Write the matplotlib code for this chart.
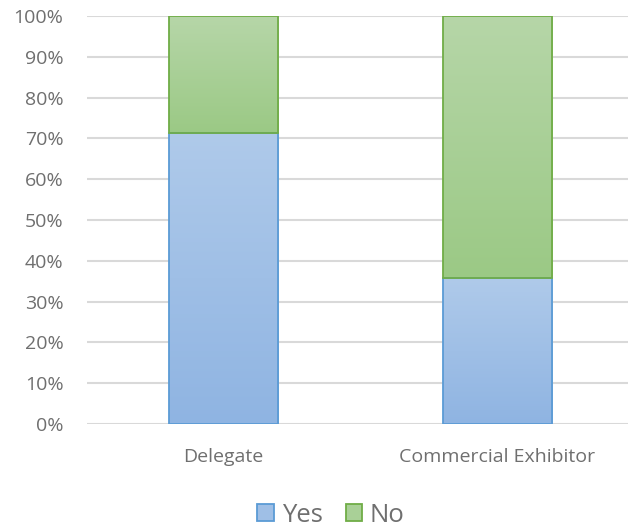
import matplotlib
matplotlib.use("Agg")
import matplotlib.pyplot as plt
import numpy as np
from matplotlib.patches import Patch
from matplotlib.colors import to_rgb

categories = ["Delegate", "Commercial Exhibitor"]
yes_share = [71.4, 35.7]
no_share = [28.6, 64.3]
y_ticks = [0, 10, 20, 30, 40, 50, 60, 70, 80, 90, 100]

plt.rcParams['font.family'] = ['Open Sans', 'DejaVu Sans']

fig = plt.figure(figsize=(6.28, 5.29), dpi=100)
ax = fig.add_axes([87 / 628, 105 / 529, 547 / 628, 408 / 529])

x = np.arange(len(categories))
width = 0.40

series = [
    ("Yes", yes_share, np.zeros(len(categories)), "#afcaea", "#8fb4e2", "#5b9bd5"),
    ("No", no_share, np.array(yes_share), "#b6d6a8", "#9bc985", "#70ad47"),
]

handles = []
for name, vals, base, top_c, bot_c, edge_c in series:
    bars = ax.bar(x, vals, width, bottom=base, facecolor="none",
                  edgecolor=edge_c, linewidth=1.3, zorder=4)
    top_rgb = np.array(to_rgb(top_c))
    bot_rgb = np.array(to_rgb(bot_c))
    t = np.linspace(0, 1, 256)[:, None]
    grad = (top_rgb[None, :] * (1 - t) + bot_rgb[None, :] * t)[:, None, :]
    for b in bars:
        x0, y0 = b.get_x(), b.get_y()
        ax.imshow(grad, extent=(x0, x0 + b.get_width(), y0, y0 + b.get_height()),
                  aspect="auto", origin="upper", zorder=3, interpolation="bilinear")
    handles.append(Patch(facecolor=(top_rgb + bot_rgb) / 2, edgecolor=edge_c,
                         linewidth=1.3, label=name))

ax.set_xlim(-0.5, 1.5)
ax.set_ylim(0, 100)
ax.set_yticks(y_ticks)
ax.set_yticklabels([f"{v}%" for v in y_ticks])
ax.set_xticks(x)
ax.set_xticklabels(categories)
ax.grid(axis="y", color="#d9d9d9", linewidth=1.5, zorder=0)
ax.set_axisbelow(True)
for s in ax.spines.values():
    s.set_visible(False)
ax.tick_params(axis="both", length=0, colors="#6f6f6f", labelsize=14)
ax.tick_params(axis="y", pad=17)
ax.tick_params(axis="x", pad=17)

fig.legend(handles=handles, loc="center", bbox_to_anchor=(331 / 628, 1 - 515 / 529),
           ncol=2, frameon=False, fontsize=18.5, labelcolor="#6f6f6f",
           handlelength=0.65, handleheight=0.65, handletextpad=0.3, columnspacing=0.9)

fig.savefig("out.png", dpi=100)
